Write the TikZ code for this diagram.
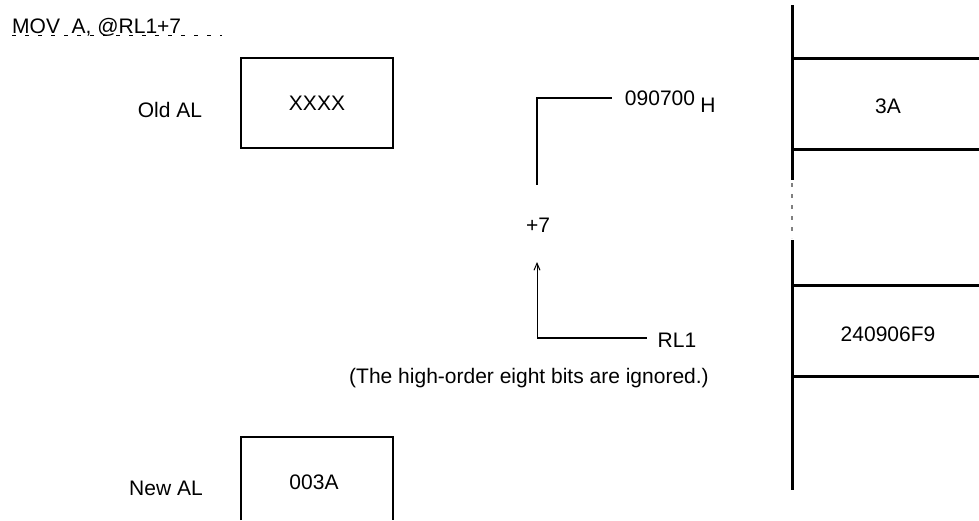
\documentclass[tikz,border=0pt]{standalone}
\usepackage{fontspec}
\setmainfont{Liberation Sans}
\usetikzlibrary{arrows.meta, calc, positioning}
\pgfkeys{/tikz/.cd,
    diagram style/.style={
        x=1pt, y=1pt,
        font=\fontsize{21}{25}\selectfont,
        inner sep=0pt
    },
    thick line/.style={line width=2.6pt},
    thin line/.style={line width=1pt},
    reg box/.style={draw, thick line, minimum width=152pt, minimum height=90pt},
    gap line/.style={line width=1.2pt, gray, dash pattern=on 4pt off 7pt}
}

\begin{document}
\begin{tikzpicture}[diagram style]
    \useasboundingbox (0,0) rectangle (979,-520);

    % --- 1. instruction ---
    \node[anchor=base west] (instr) at (12,-33) {MOV\ \ A, @RL1+7};
    \draw[thin line, dash pattern=on 4pt off 9pt] (12,-35.5) -- (222,-35.5);

    % --- 2. registers ---
    \node[reg box] (oldval) at (317,-103) {XXXX};
    \node (oldname) at (170,-110) {Old AL};

    \draw[thick line] (241,-520) |- (393,-437) -- (393,-520);
    \node (newval) at (314,-482) {003A};
    \node (newname) at (166,-488) {New AL};

    % --- 3. address calculation ---
    \node (base) at (660,-98) {090700};
    \node[right=5pt of base, yshift=-7pt] (baseh) {H};
    \coordinate (baseend) at (537,-185);
    \draw[thick line] ([xshift=-13pt]base.west) -| (baseend);

    \node (disp) at (538,-225) {+7};

    \node (rl) at (677,-340) {RL1};
    \coordinate (rlcorner) at (537,-338);
    \coordinate (rltip) at (537,-262);
    \draw[thick line] ([xshift=-11pt, yshift=2pt]rl.west) -- (rlcorner);
    \draw[thin line, -{Straight Barb[length=7pt, width=6pt]}] (rlcorner) -- (rltip);

    \node (note) at (529,-378) {(The high-order eight bits are ignored.)};

    % --- 4. memory ---
    \draw[line width=3pt] (792,-5) -- (792,-180);
    \draw[gap line] (792,-183) -- (792,-238);
    \draw[line width=3pt] (792,-240) -- (792,-490);

    \foreach \y in {58, 149, 285, 376} {
        \draw[line width=3pt] (792,-\y) -- (979,-\y);
    }

    \node (cellA) at (888,-106) {3A};
    \node (cellB) at (888,-334) {240906F9};

\end{tikzpicture}
\end{document}
